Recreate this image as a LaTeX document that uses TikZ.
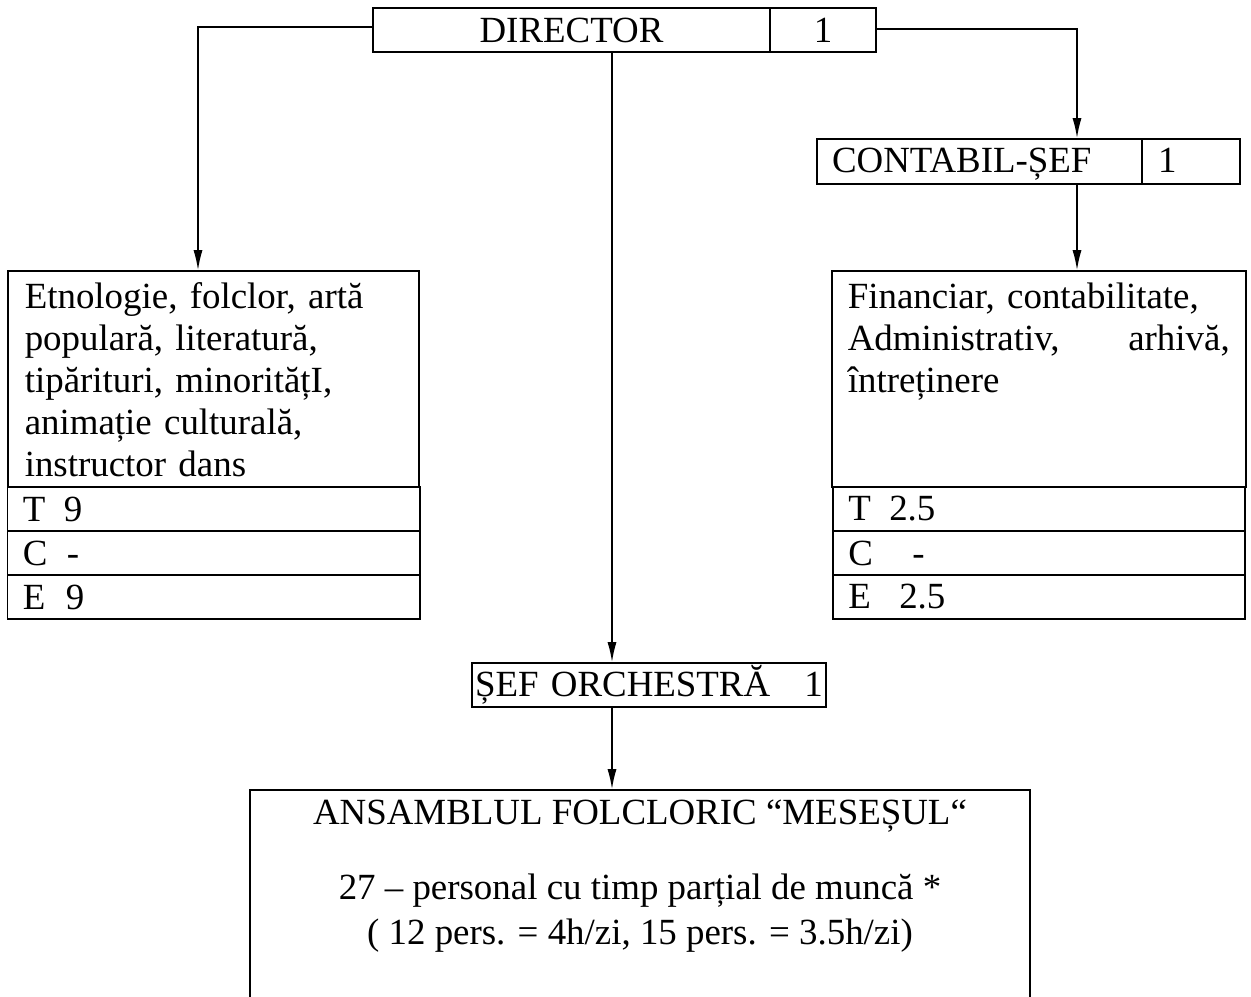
\documentclass[tikz,border=0pt]{standalone}
\usepackage{fontspec}
\setmainfont{Liberation Serif}
\usetikzlibrary{positioning,arrows.meta}
\newcommand{\orgfont}{\fontsize{21}{23.8}\selectfont}
\newcommand{\rowlab}[3]{\makebox[#1][l]{#2}#3}

\begin{document}
\begin{tikzpicture}
  [x=0.02cm,y=-0.02cm,line width=0.9pt,
   every node/.style={font=\orgfont, inner sep=0pt},
   box/.style={draw, rectangle, minimum height=0.88cm},
   cell/.style={draw, rectangle, minimum width=8.25cm, minimum height=0.88cm, inner xsep=0.31cm, text width=7.63cm, align=left},
   arr/.style={-{Latex[length=0.4cm,width=0.18cm]}}]
  \useasboundingbox (0,0) rectangle (1251,997);
  \clip (0,0) rectangle (1251,997);

  \coordinate (lx) at (198,0);
  \coordinate (mx) at (612,0);
  \coordinate (rx) at (1077,0);

  \node[box, minimum width=7.94cm] (dir) at (571.5,30) {DIRECTOR};
  \node[box, minimum width=2.12cm] (dirn) at (823,30) {1};
  \node[box, minimum width=6.5cm, minimum height=0.9cm, inner xsep=0.3cm, text width=5.9cm, text height=0.52cm, text depth=0.06cm, align=left] (cont) at (979.5,161.5) {CONTABIL-ȘEF};
  \node[box, minimum width=1.96cm, minimum height=0.9cm, inner xsep=0.32cm, text width=1.32cm, text height=0.52cm, text depth=0.06cm, align=left] (contn) at (1191,161.5) {1};

  \node[box, minimum width=8.22cm, minimum height=4.32cm] (area) at (213.5,379) {};
  \node[box, minimum width=8.28cm, minimum height=4.32cm] (fin) at (1039,379) {};
  \node[anchor=north west, text width=7.9cm, align=left] (areatxt) at (24,282)
    {Etnologie, folclor, artă\\ populară, literatură,\\ tipărituri, minoritățI,\\ animație culturală,\\ instructor dans};
  \node[anchor=north west, text width=7.64cm, align=left] (fintxt) at (847,282)
    {Financiar, contabilitate,\\ Administrativ,\hfill arhivă,\\ întreținere};

  \foreach \n/\y/\l/\r in {t/509/{\rowlab{0.82cm}{T}{9}}/{\rowlab{0.82cm}{T}{2.5}},
                           c/553/{\rowlab{0.88cm}{C}{-}}/{\rowlab{1.28cm}{C}{-}},
                           e/597/{\rowlab{0.86cm}{E}{9}}/{\rowlab{1.02cm}{E}{2.5}}} {
    \node[cell] (l\n) at (213.5,\y) {\l};
    \node[cell] (r\n) at (1039,\y) {\r};
  }

  \node[box, minimum width=7.08cm, inner xsep=0.06cm, text width=6.96cm, align=left] (sef) at (649,685) {ȘEF ORCHESTRĂ\hfill 1};
  \node[box, minimum width=15.6cm, minimum height=4.4cm] (ans) at (640,900) {};
  \node[anchor=north, align=center] (anstxt) at ([yshift=-0.2cm]ans.north)
    {ANSAMBLUL FOLCLORIC “MESEȘUL“\\[0.66cm] 27 – personal cu timp parțial de muncă *\\[0.06cm] ( 12 pers. = 4h/zi, 15 pers. = 3.5h/zi)};

  \draw[arr] ([yshift=0.06cm]dir.west) -| (area.north -| lx);
  \draw[arr] ([yshift=0.02cm]dirn.east) -| (cont.north -| rx);
  \foreach \from/\to/\x in {cont/fin/rx, dir/sef/mx, sef/ans/mx}
    \draw[arr] (\from.south -| \x) -- (\to.north -| \x);
\end{tikzpicture}
\end{document}
